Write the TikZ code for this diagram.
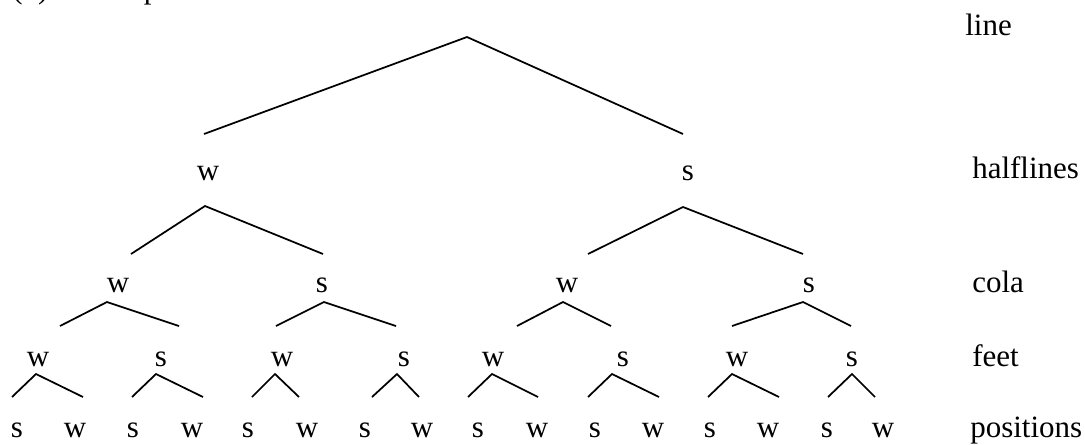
\documentclass[tikz,border=0pt]{standalone}
\usepackage{fontspec}
\setmainfont{Liberation Serif}
\begin{document}
\begin{tikzpicture}[x=0.75pt,y=-0.75pt,
  lbl/.style={inner sep=0pt,anchor=base,font=\fontsize{23.25pt}{28pt}\selectfont},
  lvl/.style={inner sep=0pt,anchor=base west,font=\fontsize{23.25pt}{28pt}\selectfont},
  edge/.style={line width=1.3pt,line cap=butt,line join=miter}]
\useasboundingbox (0,0) rectangle (1085,444);
\clip (0,0) rectangle (1085,444);
% cut-off heading
\node[lvl] (hd1) at (12,-1.5) {(1)};
\node[lvl] (hd2) at (89,-1.5) {Template};
% level labels
\node[lvl] (Lline) at (965,35) {line};
\node[lvl] (Lhalf) at (972,178) {halflines};
\node[lvl] (Lcola) at (972,292) {cola};
\node[lvl] (Lfeet) at (972,366) {feet};
\node[lvl] (Lpos) at (970,437) {positions};
% halflines
\node[lbl] (h1) at (208,180) {w};
\node[lbl] (h2) at (688,180) {s};
% cola
\node[lbl] (c1) at (118,292) {w};
\node[lbl] (c2) at (322,292) {s};
\node[lbl] (c3) at (567,292) {w};
\node[lbl] (c4) at (809,292) {s};
% feet
\foreach \x/\t [count=\i] in {38/w,161/s,282/w,404/s,493/w,623/s,737/w,852/s}
  \node[lbl] (f\i) at (\x,366) {\t};
% positions
\foreach \x/\t [count=\i] in {17/s,75/w,133/s,192/w,248/s,307/w,365/s,422/w,478/s,537/w,595/s,653/w,710/s,768/w,827/s,883/w}
  \node[lbl] (p\i) at (\x,437) {\t};
% branching connectors: apex, left end, right end
\foreach \n/\ax/\ay/\lx/\rx/\ey in {
   top/467/37/204/683/134,
   hw/205/206/131/323/254,
   hs/683/207/588/803/254,
   cw1/107/302/60/179/326,
   cs1/324/302/276/396/326,
   cw2/563/302/517/611/326,
   cs2/803/302/732/851/326,
   ft1/36/374/12/83/397,
   ft2/156/374/132/203/397,
   ft3/275/374/252/299/397,
   ft4/397/374/372/419/397,
   ft5/492/374/468/538/397,
   ft6/612/374/588/659/397,
   ft7/732/374/708/779/397,
   ft8/852/374/828/875/397}{
  \coordinate (\n-a) at (\ax,\ay);
  \coordinate (\n-l) at (\lx,\ey);
  \coordinate (\n-r) at (\rx,\ey);
  \draw[edge] (\n-l) -- (\n-a) -- (\n-r);
}
\end{tikzpicture}
\end{document}
